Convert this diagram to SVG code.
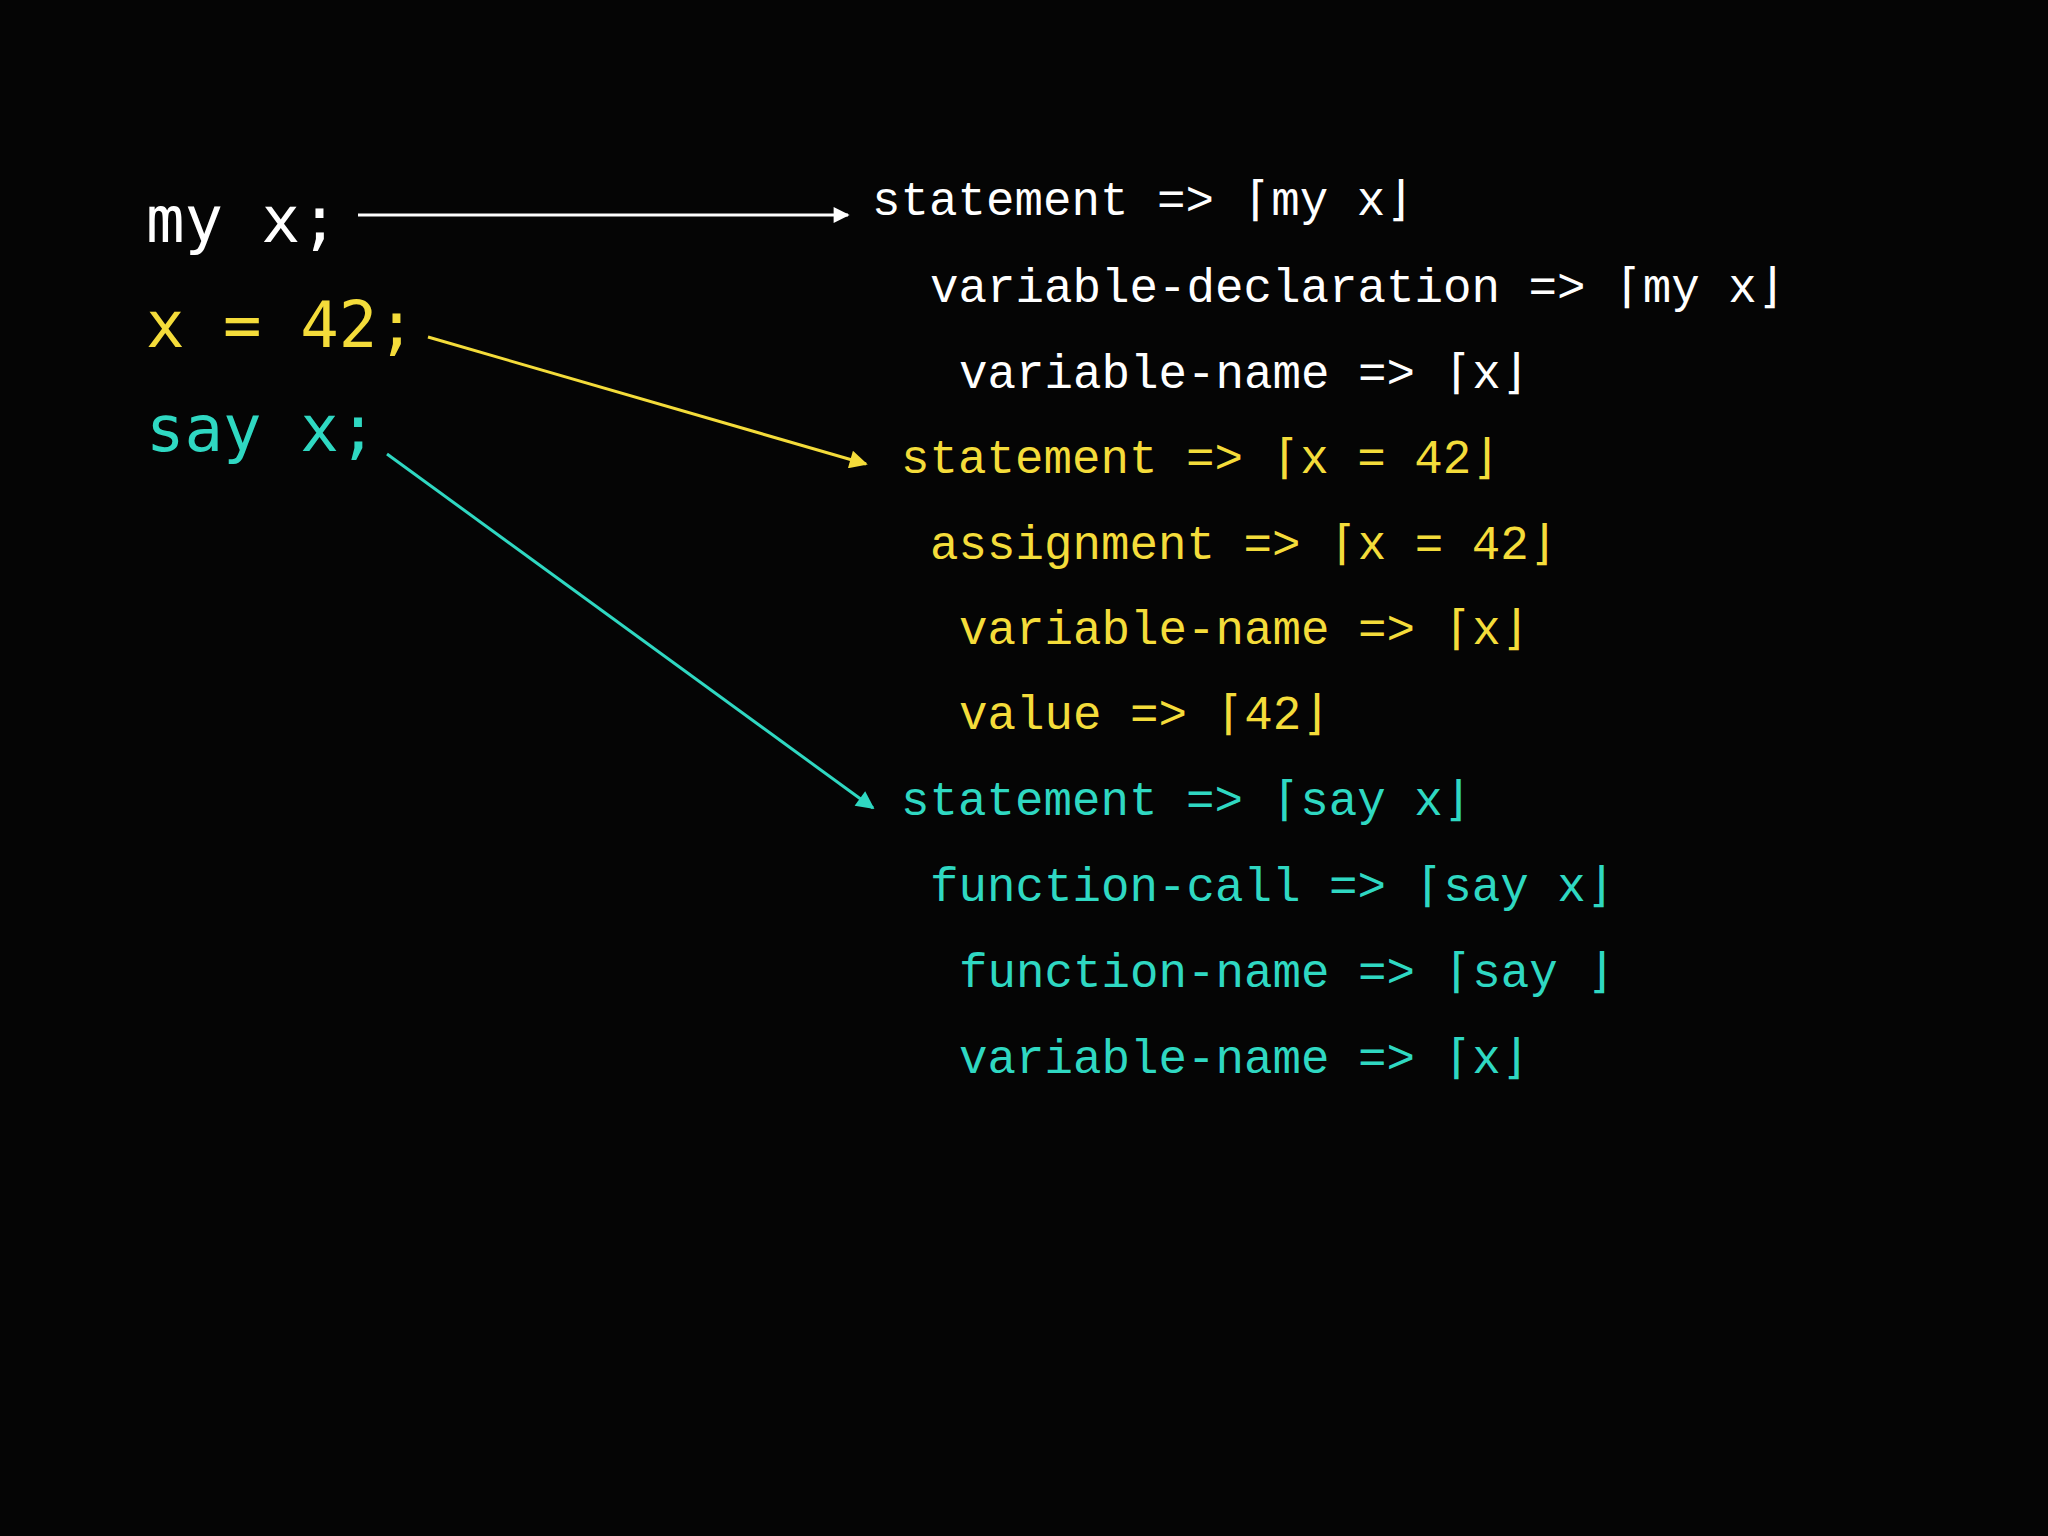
<svg xmlns="http://www.w3.org/2000/svg" width="2048" height="1536" viewBox="0 0 2048 1536">
<defs>
<style>
.code{font-family:"DejaVu Sans Mono",monospace;font-size:64px}
.t{font-family:"Liberation Mono","DejaVu Sans Mono",monospace;font-size:47.5px;white-space:pre}
.w{fill:#ffffff}.y{fill:#f4dc3a}.c{fill:#2fd8c2}
</style>
<marker id="aw" viewBox="0 0 10 10" refX="9" refY="5" markerWidth="20" markerHeight="16" orient="auto" markerUnits="userSpaceOnUse"><path d="M0,0L10,5L0,10z" fill="#fff"/></marker>
<marker id="ay" viewBox="0 0 10 10" refX="9" refY="5" markerWidth="22" markerHeight="18" orient="auto" markerUnits="userSpaceOnUse"><path d="M0,0L10,5L0,10z" fill="#f4dc3a"/></marker>
<marker id="ac" viewBox="0 0 10 10" refX="9" refY="5" markerWidth="22" markerHeight="18" orient="auto" markerUnits="userSpaceOnUse"><path d="M0,0L10,5L0,10z" fill="#2fd8c2"/></marker>
</defs>
<rect width="2048" height="1536" fill="#050505"/>
<g id="src1"><text class="code w" x="146" y="242">my x;</text></g>
<g id="src2"><text class="code y" x="146" y="347">x = 42;</text></g>
<g id="src3"><text class="code c" x="146" y="451">say x;</text></g>
<g id="tree">
<text class="t w" x="872" y="215">statement =&gt; ⌈my x⌋</text>
<text class="t w" x="930" y="302">variable-declaration =&gt; ⌈my x⌋</text>
<text class="t w" x="959" y="388">variable-name =&gt; ⌈x⌋</text>
<text class="t y" x="901" y="473">statement =&gt; ⌈x = 42⌋</text>
<text class="t y" x="930" y="559">assignment =&gt; ⌈x = 42⌋</text>
<text class="t y" x="959" y="644">variable-name =&gt; ⌈x⌋</text>
<text class="t y" x="959" y="729">value =&gt; ⌈42⌋</text>
<text class="t c" x="901" y="815">statement =&gt; ⌈say x⌋</text>
<text class="t c" x="930" y="901">function-call =&gt; ⌈say x⌋</text>
<text class="t c" x="959" y="987">function-name =&gt; ⌈say ⌋</text>
<text class="t c" x="959" y="1073">variable-name =&gt; ⌈x⌋</text>
</g>
<g id="connectors" fill="none" stroke-width="3">
<line x1="358" y1="215" x2="848" y2="215" stroke="#fff" marker-end="url(#aw)"/>
<line x1="428" y1="337" x2="866" y2="464" stroke="#f4dc3a" marker-end="url(#ay)"/>
<line x1="387" y1="454" x2="873" y2="808" stroke="#2fd8c2" marker-end="url(#ac)"/>
</g>
</svg>
